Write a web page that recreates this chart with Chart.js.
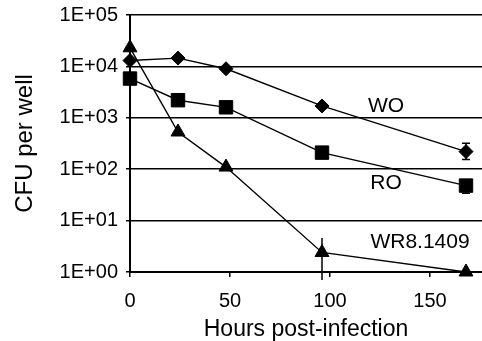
<!DOCTYPE html>
<html>
<head>
<meta charset="utf-8">
<script src="https://cdn.jsdelivr.net/npm/chart.js@4/dist/chart.umd.min.js"></script>
<style>
  html, body { margin: 0; padding: 0; background: #fff; }
  #wrap { width: 482px; height: 341px; }
</style>
</head>
<body>
<div id="wrap"><canvas id="cfuChart" width="482" height="341"></canvas></div>
<script>
// valori (ore dopo l'infezione, CFU per pozzetto)
const hours = [0, 24, 48, 96, 168];
const woValues = [13000, 14500, 9000, 1700, 220];
const roValues = [5800, 2200, 1600, 210, 48];
const wrValues = [23000, 530, 110, 2.4, 1.0];

// barre d'errore: limiti superiori / inferiori (null = nessuna barra)
const woHigh = [null, null, null, null, 320];
const woLow = [null, null, null, null, 155];
const roHigh = [null, null, null, null, 60];
const roLow = [null, null, null, null, 34];
const wrHigh = [36000, null, null, 4.6, null];
const wrLow = [null, null, null, 0.7, null];

const seriesNames = ['WO', 'RO', 'WR8.1409'];
const yTicks = [1, 10, 100, 1000, 10000, 100000];
const xTicks = [0, 50, 100, 150];

// posizione delle etichette delle serie (in unità dei dati)
const labelAt = [
    { x: 128, y: 1650 },
    { x: 128, y: 53 },
    { x: 145, y: 3.8 }
];

const FONT = "'Liberation Sans', Arial, Helvetica, sans-serif";

function toPoints(values) {
    return values.map((v, i) => ({ x: hours[i], y: v }));
}

// disegna barre d'errore e etichette delle serie
const extrasPlugin = {
    id: 'extras',
    afterDatasetsDraw(chart) {
        const ctx = chart.ctx;
        const xs = chart.scales.x;
        const ys = chart.scales.y;
        // [alto, basso, valori, con stanghette?]
        const bars = [[woHigh, woLow, woValues, true], [roHigh, roLow, roValues, true], [wrHigh, wrLow, wrValues, false]];

        ctx.save();
        ctx.strokeStyle = '#000';
        ctx.lineWidth = 1.5;
        bars.forEach(([hi, lo, vals, caps]) => {
            vals.forEach((v, i) => {
                const px = xs.getPixelForValue(hours[i]);
                const top = hi[i] != null ? ys.getPixelForValue(hi[i]) : null;
                const bot = lo[i] != null ? ys.getPixelForValue(lo[i]) : null;
                if (top === null && bot === null) return;
                const mid = ys.getPixelForValue(v);
                ctx.beginPath();
                ctx.moveTo(px, top !== null ? top : mid);
                ctx.lineTo(px, bot !== null ? bot : mid);
                if (caps && top !== null) { ctx.moveTo(px - 4, top); ctx.lineTo(px + 4, top); }
                if (caps && bot !== null) { ctx.moveTo(px - 4, bot); ctx.lineTo(px + 4, bot); }
                ctx.stroke();
            });
        });

        ctx.fillStyle = '#000';
        ctx.font = '21px ' + FONT;
        ctx.textAlign = 'center';
        ctx.textBaseline = 'middle';
        seriesNames.forEach((name, i) => {
            ctx.fillText(name, xs.getPixelForValue(labelAt[i].x), ys.getPixelForValue(labelAt[i].y));
        });
        ctx.restore();
    }
};

const commonDs = {
    borderColor: '#000',
    backgroundColor: '#000',
    pointBorderColor: '#000',
    pointBackgroundColor: '#000',
    borderWidth: 1.4,
    pointBorderWidth: 1,
    clip: false
};

new Chart(document.getElementById('cfuChart'), {
    type: 'line',
    data: {
        datasets: [
            Object.assign({ label: seriesNames[0], data: toPoints(woValues), pointStyle: 'rectRot', pointRadius: 7 }, commonDs),
            Object.assign({ label: seriesNames[1], data: toPoints(roValues), pointStyle: 'rect', pointRadius: 9.5 }, commonDs),
            Object.assign({ label: seriesNames[2], data: toPoints(wrValues), pointStyle: 'triangle', pointRadius: 8 }, commonDs)
        ]
    },
    options: {
        responsive: false,
        animation: false,
        events: [],
        layout: { autoPadding: false, padding: { top: 15, right: 0, left: 0, bottom: 0 } },
        plugins: {
            legend: { display: false },
            tooltip: { enabled: false }
        },
        scales: {
            x: {
                type: 'linear',
                min: 0,
                max: 176,
                afterBuildTicks: (axis) => { axis.ticks = xTicks.map(v => ({ value: v })); },
                afterFit: (axis) => {
                    axis.height = 69;
                    axis.paddingLeft = 0;
                    axis.paddingRight = 0;
                },
                grid: { drawOnChartArea: false, drawTicks: true, tickLength: 5, color: '#000', lineWidth: 1.5 },
                border: { color: '#000', width: 2 },
                ticks: { color: '#000', font: { family: FONT, size: 20 }, padding: 12, maxRotation: 0 },
                title: { display: true, text: 'Hours post-infection', color: '#000', font: { family: FONT, size: 23, lineHeight: 1.0 }, padding: { top: 0, bottom: 0 } }
            },
            y: {
                type: 'logarithmic',
                min: 1,
                max: 100000,
                afterBuildTicks: (axis) => { axis.ticks = yTicks.map(v => ({ value: v })); },
                afterFit: (axis) => {
                    axis.width = 130;
                    axis.paddingTop = 0;
                    axis.paddingBottom = 0;
                },
                grid: { color: '#000', lineWidth: 1.5, tickLength: 4 },
                border: { color: '#000', width: 2 },
                ticks: {
                    color: '#000',
                    font: { family: FONT, size: 20 },
                    padding: 8,
                    callback: (v) => '1E+0' + Math.round(Math.log10(v))
                },
                title: { display: true, text: 'CFU per well', color: '#000', font: { family: FONT, size: 24 }, padding: { top: 11, bottom: 0 } }
            }
        }
    },
    plugins: [extrasPlugin]
});
</script>
</body>
</html>
